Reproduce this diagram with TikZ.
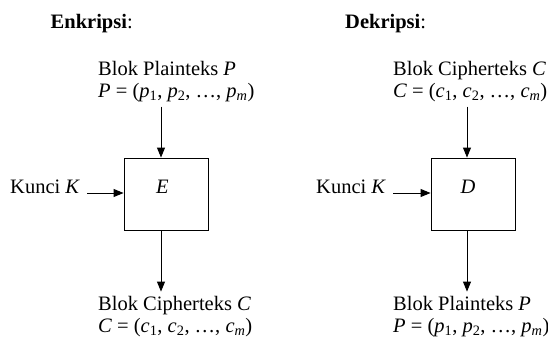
\documentclass[tikz,border=0pt]{standalone}
\usepackage{fontspec}
\setmainfont{Liberation Serif}
\usetikzlibrary{arrows.meta}
\newcommand{\isub}[2]{\textit{#1}\textsubscript{#2}}
\begin{document}
\begin{tikzpicture}[x=1pt,y=-1pt, font=\fontsize{20.5}{23}\selectfont,
  lbl/.style={anchor=base west, inner sep=0pt},
  blk/.style={draw, line width=0.9pt, minimum width=84pt, minimum height=72pt, inner sep=0pt},
  arr/.style={-{Triangle[length=10pt,width=8pt]}, line width=0.9pt}]
\useasboundingbox (0,0) rectangle (548,338);
% headers
\node[lbl] (hE) at (50.5,28.3) {\textbf{Enkripsi}:};
\node[lbl] (hD) at (345,28.3) {\textbf{Dekripsi}:};
% boxes
\node[blk] (boxE) at (166,194) {};
\node[blk] (boxD) at (473,194) {};
\node[lbl, anchor=base] (tE) at (162.5,193) {\textit{E}};
\node[lbl, anchor=base] (tD) at (468,193) {\textit{D}};
\coordinate (axE) at (161,0);
\coordinate (axD) at (467,0);
% left labels
\node[lbl] (inP1) at (98,75) {Blok Plainteks \textit{P}};
\node[lbl] (inP2) at (98,97) {\textit{P} = (\isub{p}{1}, \isub{p}{2}, …, \isub{p}{\textit{m}})};
\node[lbl] (outC1) at (98,310) {Blok Cipherteks \textit{C}};
\node[lbl] (outC2) at (98,332) {\textit{C} = (\isub{c}{1}, \isub{c}{2}, …, \isub{c}{\textit{m}})};
\node[lbl] (kE) at (10,193) {Kunci \textit{K}};
% right labels
\node[lbl] (inC1) at (393,75) {Blok Cipherteks \textit{C}};
\node[lbl] (inC2) at (393,97) {\textit{C} = (\isub{c}{1}, \isub{c}{2}, …, \isub{c}{\textit{m}})};
\node[lbl] (outP1) at (393,310) {Blok Plainteks \textit{P}};
\node[lbl] (outP2) at (393,332) {\textit{P} = (\isub{p}{1}, \isub{p}{2}, …, \isub{p}{\textit{m}})};
\node[lbl] (kD) at (316,193) {Kunci \textit{K}};
% arrows
\draw[arr, shorten <=5pt] (inP2.south -| axE) -- (boxE.north -| axE);
\draw[arr, shorten >=4pt] (boxE.south -| axE) -- (outC1.north -| axE);
\draw[arr, shorten <=7pt] (kE.base east) -- (boxE.west |- kE.base);
\draw[arr, shorten <=5pt] (inC2.south -| axD) -- (boxD.north -| axD);
\draw[arr, shorten >=4pt] (boxD.south -| axD) -- (outP1.north -| axD);
\draw[arr, shorten <=7pt] (kD.base east) -- (boxD.west |- kD.base);
\end{tikzpicture}
\end{document}
